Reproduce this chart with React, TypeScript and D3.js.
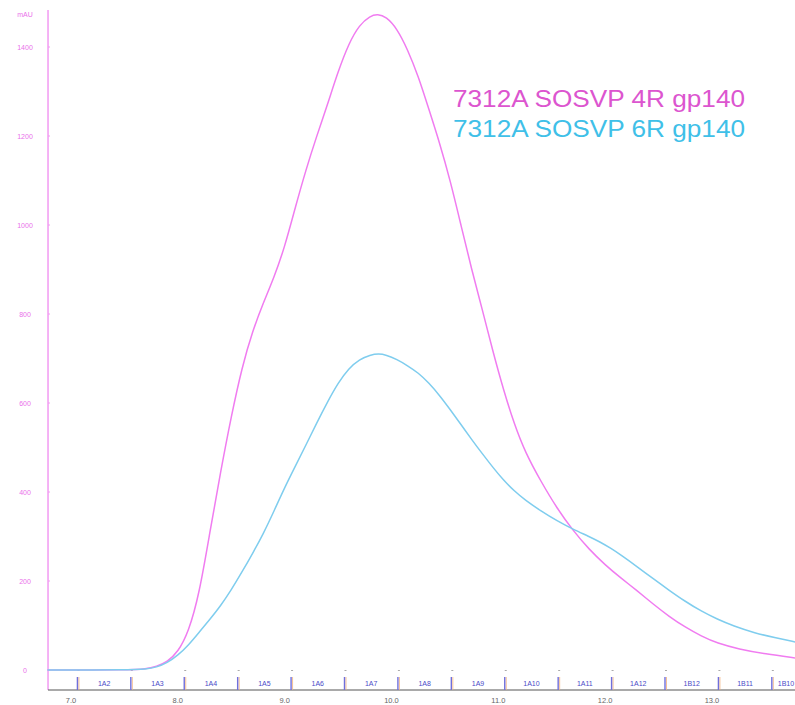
import React from "react";
import * as d3 from "d3";

// Elution volume (mL) and absorbance (mAU)
const volume4R = [6.78, 7.55, 7.7, 7.8, 7.9, 8.0, 8.1, 8.2, 8.3, 8.4, 8.5, 8.6, 8.7, 8.8, 8.9, 9.0, 9.1, 9.2, 9.3, 9.4, 9.5, 9.6, 9.7, 9.8, 9.87, 9.95, 10.05, 10.15, 10.25, 10.35, 10.45, 10.55, 10.65, 10.75, 10.85, 10.95, 11.05, 11.15, 11.25, 11.4, 11.55, 11.7, 11.85, 12.0, 12.15, 12.3, 12.45, 12.6, 12.75, 12.9, 13.05, 13.25, 13.5, 13.78];
const mau4R = [0, 0, 2, 8, 18, 40, 85, 170, 310, 445, 570, 680, 762, 825, 882, 950, 1040, 1125, 1200, 1270, 1345, 1408, 1450, 1470, 1474, 1468, 1442, 1395, 1335, 1260, 1185, 1100, 1000, 900, 810, 715, 628, 552, 490, 423, 363, 313, 271, 236, 206, 178, 148, 120, 96, 76, 60, 47, 36, 27];

const volume6R = [6.78, 7.55, 7.7, 7.8, 7.9, 8.0, 8.1, 8.2, 8.3, 8.4, 8.5, 8.6, 8.7, 8.8, 8.9, 9.0, 9.1, 9.2, 9.3, 9.4, 9.5, 9.6, 9.7, 9.8, 9.88, 9.95, 10.05, 10.15, 10.25, 10.35, 10.45, 10.55, 10.65, 10.75, 10.85, 10.95, 11.05, 11.15, 11.25, 11.4, 11.55, 11.7, 11.85, 11.95, 12.05, 12.15, 12.3, 12.45, 12.6, 12.75, 12.9, 13.05, 13.2, 13.4, 13.6, 13.78];
const mau6R = [0, 0, 2, 6, 16, 33, 56, 85, 114, 144, 180, 220, 262, 306, 357, 410, 458, 506, 555, 602, 645, 678, 698, 708, 711, 708, 698, 684, 668, 645, 617, 585, 552, 518, 486, 455, 426, 402, 382, 357, 335, 316, 300, 288, 274, 258, 232, 205, 179, 154, 132, 114, 99, 83, 72, 63];

const yTicks = [0, 200, 400, 600, 800, 1000, 1200, 1400];
const xTicks = [7, 8, 9, 10, 11, 12, 13];
const fractionStarts = [7.06, 7.56, 8.06, 8.56, 9.06, 9.56, 10.06, 10.56, 11.06, 11.56, 12.06, 12.56, 13.06, 13.56];
const fractionLabels = ["1A2", "1A3", "1A4", "1A5", "1A6", "1A7", "1A8", "1A9", "1A10", "1A11", "1A12", "1B12", "1B11", "1B10"];
const seriesNames = ["7312A SOSVP 4R gp140", "7312A SOSVP 6R gp140"];

export default function App() {
  const W = 795, H = 705;
  const x = d3.scaleLinear().domain([7, 13]).range([71, 712]);
  const y = d3.scaleLinear().domain([0, 1400]).range([670, 47]);
  const axisX = x(6.785);
  const axisY = 690;

  const line = d3
    .line<[number, number]>()
    .x((d) => x(d[0]))
    .y((d) => y(d[1]))
    .curve(d3.curveBasis);

  const d4 = line(volume4R.map((v, i) => [v, mau4R[i]]));
  const d6 = line(volume6R.map((v, i) => [v, mau6R[i]]));

  const font = "'Liberation Sans', Arial, sans-serif";

  return (
    <svg
      width={W}
      height={H}
      style={{ position: "absolute", left: 0, top: 0, background: "#fff" }}
      fontFamily={font}
    >
      <rect x={0} y={0} width={W} height={H} fill="#fff" />
      {/* y axis */}
      <line x1={axisX} x2={axisX} y1={10} y2={axisY} stroke="#f29af2" strokeWidth={1.5} />
      <text x={25} y={17} fontSize={7} fill="#ea70ea" textAnchor="middle">mAU</text>
      {yTicks.map((t) => (
        <g key={t}>
          <line x1={axisX} x2={axisX + 2} y1={y(t)} y2={y(t)} stroke="#f29af2" strokeWidth={1} />
          <text x={25} y={y(t) + 2.5} fontSize={7} fill="#ea70ea" textAnchor="middle">{t}</text>
        </g>
      ))}
      {/* x axis */}
      <line x1={axisX} x2={W} y1={axisY} y2={axisY} stroke="#555" strokeWidth={1} />
      {xTicks.map((t) => (
        <text key={t} x={x(t)} y={702.5} fontSize={7.5} fill="#666" textAnchor="middle">{t.toFixed(1)}</text>
      ))}
      {/* fraction markers */}
      {fractionStarts.map((f, i) => {
        const px = x(f);
        const next = x(f + 0.5);
        const last = i === fractionStarts.length - 1;
        return (
          <g key={i}>
            <line x1={px} x2={px + 2} y1={670.5} y2={670.5} stroke="#aaa" strokeWidth={1} />
            <line x1={px + 1.5} x2={px + 1.5} y1={677} y2={axisY} stroke="#f2b07a" strokeWidth={0.8} />
            <line x1={px} x2={px} y1={677} y2={axisY} stroke="#6f6fdc" strokeWidth={1.4} />
            <text
              x={last ? px + 6 : (px + next) / 2}
              y={686}
              fontSize={7}
              fill="#4b4bc8"
              textAnchor={last ? "start" : "middle"}
            >
              {fractionLabels[i]}
            </text>
          </g>
        );
      })}
      {/* curves */}
      <path d={d4 ?? ""} fill="none" stroke="#f07cf0" strokeWidth={1.5} />
      <path d={d6 ?? ""} fill="none" stroke="#7fcdee" strokeWidth={1.5} />
      {/* legend */}
      <text x={453} y={107} fontSize={24} fill="#dc55cf" textLength={292} lengthAdjust="spacingAndGlyphs">{seriesNames[0]}</text>
      <text x={453} y={137} fontSize={24} fill="#3fc0e8" textLength={292} lengthAdjust="spacingAndGlyphs">{seriesNames[1]}</text>
    </svg>
  );
}
